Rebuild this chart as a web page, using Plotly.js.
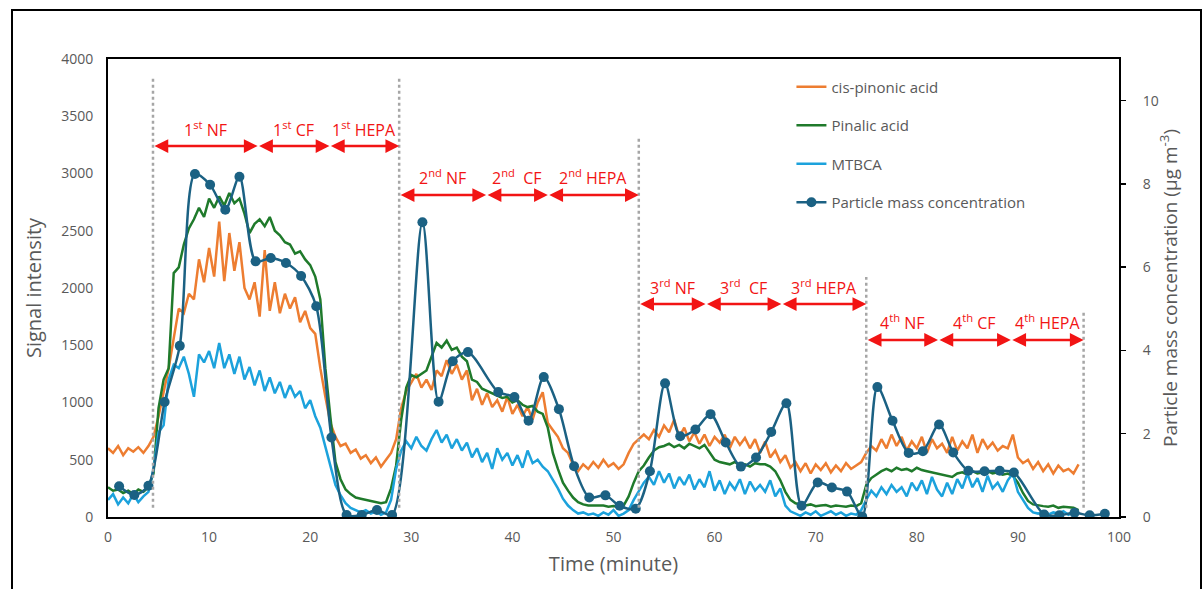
<!DOCTYPE html>
<html>
<head>
<meta charset="utf-8">
<script src="https://cdn.plot.ly/plotly-3.0.1.min.js"></script>
<style>
  html, body { margin:0; padding:0; background:#fff; }
  #chart { width:1202px; height:589px; position:absolute; left:0; top:0; }
  #frame { position:absolute; left:11px; top:9px; width:1187px; height:620px; border:2px solid #000; pointer-events:none; }
</style>
</head>
<body>
<div id="chart"></div>
<div id="frame"></div>
<script>
// Signal series sampled every 0.5 minute starting at t = 0
const sampleStep = 0.5;

const cisPinonic = [600,560,620,540,600,570,610,560,620,700,
 880,1080,1300,1560,1820,1780,1950,1900,2250,2050,
 2350,2100,2580,2060,2480,2150,2400,2000,1900,2050,
 1750,2330,1800,2050,1780,1950,1820,1920,1700,1800,
 1650,1600,1300,1050,820,700,620,640,560,590,
 510,540,470,520,440,500,560,680,950,1100,
 1180,1250,1130,1200,1110,1280,1230,1370,1250,1330,
 1200,1280,1020,1120,980,1080,960,1020,920,1050,
 900,980,880,960,850,1000,1090,820,760,700,
 600,560,460,400,460,420,480,430,500,440,
 470,420,460,560,640,680,720,680,760,700,
 800,740,850,700,780,660,740,640,720,620,
 700,650,720,600,700,630,690,600,680,560,
 660,520,580,480,540,430,480,400,470,380,
 460,410,470,390,450,400,470,420,450,480,
 560,620,580,680,600,720,620,700,580,660,
 600,700,560,680,600,640,560,700,580,660,
 600,720,560,680,600,650,580,620,600,720,
 520,470,500,420,480,400,460,380,450,400,
 420,380,460];

const pinalic = [260,230,240,210,230,200,240,220,260,380,
 950,1200,1300,2130,2180,2380,2520,2600,2700,2620,
 2780,2700,2800,2720,2830,2740,2780,2650,2480,2560,
 2600,2540,2620,2500,2460,2400,2380,2300,2320,2250,
 2200,2100,1900,1300,870,480,330,240,200,170,
 160,150,140,130,120,130,250,450,850,1130,
 1240,1220,1250,1280,1400,1520,1480,1540,1460,1480,
 1400,1360,1200,1180,1120,1100,1080,1060,1040,1050,
 1000,1020,980,960,970,920,900,780,560,420,
 300,230,170,130,110,100,100,95,100,90,
 95,90,100,180,300,400,450,520,580,610,
 620,640,610,630,600,640,620,600,630,560,
 500,480,470,460,480,450,460,440,470,460,
 460,440,400,320,220,150,120,110,100,110,
 95,100,105,90,100,95,90,100,95,120,
 280,340,370,400,420,400,430,410,420,400,
 430,410,400,390,380,370,360,350,380,390,
 370,400,380,390,400,380,390,370,380,360,
 300,210,140,110,100,95,90,100,80,90,
 85,80,60];

const mtbca = [150,200,110,170,120,200,130,180,220,420,
 740,800,1200,1330,1300,1400,1250,1050,1420,1350,
 1450,1300,1520,1300,1420,1250,1400,1200,1310,1150,
 1280,1100,1220,1080,1180,1040,1150,1050,1100,950,
 1020,880,780,620,450,280,190,120,80,60,
 40,60,30,50,20,40,150,420,580,660,
 600,700,620,580,680,760,650,720,600,680,
 580,650,520,600,480,560,420,600,500,560,
 450,540,430,580,470,500,440,400,330,250,
 160,100,60,30,40,20,30,10,40,20,
 60,10,30,60,150,220,300,350,280,400,
 300,380,250,350,280,370,240,330,260,400,
 230,320,200,300,240,330,200,310,230,280,
 220,320,180,250,100,50,30,10,40,20,
 50,10,30,50,20,40,10,30,20,60,
 150,230,180,260,200,280,220,260,180,300,
 230,320,200,350,240,180,300,200,330,250,
 380,260,340,220,360,250,300,220,320,380,
 220,150,80,40,30,50,20,40,30,50,
 20,40,30];

// Particle mass concentration (µg m-3), right axis
const pmTime = [1.1,2.6,4.0,5.6,7.1,8.6,10.1,11.6,13.0,14.6,
 16.1,17.6,19.1,20.6,22.1,23.6,25.1,26.6,28.1,31.1,
 32.7,34.1,35.6,38.6,40.2,41.6,43.1,44.6,46.1,47.6,
 49.2,50.6,52.2,53.6,55.1,56.6,58.1,59.6,61.1,62.6,
 64.1,65.6,67.1,68.6,70.2,71.6,73.1,74.6,76.1,77.6,
 79.2,80.6,82.2,83.6,85.1,86.7,88.2,89.6,92.6,94.1,
 95.6,97.1,98.6];
const pmConc = [0.74,0.53,0.75,2.76,4.11,8.24,7.98,7.38,8.17,6.14,
 6.22,6.10,5.79,5.06,1.91,0.05,0.05,0.17,0.05,7.08,
 2.77,3.74,3.96,3.0,2.88,2.31,3.36,2.59,1.22,0.47,
 0.52,0.27,0.20,1.10,3.21,1.94,2.10,2.47,1.79,1.21,
 1.43,2.04,2.73,0.27,0.83,0.71,0.61,0.01,3.12,2.31,
 1.54,1.58,2.22,1.55,1.11,1.10,1.11,1.07,0.06,0.04,
 0.10,0.04,0.08];

// Filter stage boundaries (minute) and labels
const stageRows = [
  {bounds:[4.45,14.8,21.9,28.8], y:3240, labelY:3390, labels:['1<sup>st</sup> NF','1<sup>st</sup> CF','1<sup>st</sup> HEPA']},
  {bounds:[28.8,37.4,43.5,52.5], y:2812, labelY:2970, labels:['2<sup>nd</sup> NF','2<sup>nd</sup>  CF','2<sup>nd</sup> HEPA']},
  {bounds:[52.5,59.1,66.6,75.0], y:1860, labelY:2005, labels:['3<sup>rd</sup> NF','3<sup>rd</sup>  CF','3<sup>rd</sup> HEPA']},
  {bounds:[75.0,82.1,89.3,96.5], y:1546, labelY:1705, labels:['4<sup>th</sup> NF','4<sup>th</sup> CF','4<sup>th</sup> HEPA']}
];
const dividerX = [4.45, 28.8, 52.5, 75.0, 96.5];
const dividerTop = [3850, 3850, 3320, 2095, 1810];

const tSig = cisPinonic.map((_, i) => i * sampleStep);

const FONT = 'Open Sans, Noto Sans, sans-serif';
const GREY = '#595959';
const RED = '#f21414';

const traces = [
  {x: tSig, y: cisPinonic, name: 'cis-pinonic acid', type: 'scatter', mode: 'lines',
   line: {color: '#ED7D31', width: 2.5}, legendgroup: 'a'},
  {x: tSig.slice(0, pinalic.length), y: pinalic, name: 'Pinalic acid', type: 'scatter', mode: 'lines',
   line: {color: '#1F7A2B', width: 2.5}, legendgroup: 'b'},
  {x: tSig.slice(0, mtbca.length), y: mtbca, name: 'MTBCA', type: 'scatter', mode: 'lines',
   line: {color: '#1CA2DC', width: 2.5}, legendgroup: 'c'},
  {x: pmTime, y: pmConc, name: 'Particle mass concentration', type: 'scatter', mode: 'lines+markers',
   yaxis: 'y2', line: {color: '#1B6183', width: 2.5, shape: 'spline', smoothing: 0.8},
   marker: {color: '#1B6183', size: 10}, legendgroup: 'd'}
];

const shapes = dividerX.map((x, i) => ({
  type: 'line', xref: 'x', yref: 'y', x0: x, x1: x, y0: 80, y1: dividerTop[i],
  line: {color: '#a6a6a6', width: 2.5, dash: 'dot'}, layer: 'above'
}));

const annotations = [];
stageRows.forEach(row => {
  for (let k = 0; k < 3; k++) {
    const a = row.bounds[k], b = row.bounds[k + 1];
    annotations.push({
      xref: 'x', yref: 'y', axref: 'x', ayref: 'y',
      x: b, y: row.y, ax: a, ay: row.y, text: '', showarrow: true,
      arrowside: 'end+start', arrowhead: 2, arrowsize: 1.1, arrowwidth: 2.5,
      arrowcolor: RED, standoff: 0, startstandoff: 0
    });
    annotations.push({
      xref: 'x', yref: 'y', x: (a + b) / 2, y: row.labelY, text: row.labels[k],
      showarrow: false, font: {family: FONT, size: 16, color: RED}
    });
  }
});

const layout = {
  width: 1202, height: 589,
  margin: {l: 108, r: 83, t: 59, b: 72},
  paper_bgcolor: 'rgba(0,0,0,0)', plot_bgcolor: '#fff',
  font: {family: FONT, color: GREY},
  showlegend: true,
  legend: {x: 0.676, y: 0.975, xanchor: 'left', yanchor: 'top', bgcolor: 'rgba(0,0,0,0)',
    font: {family: FONT, size: 15, color: GREY}, tracegroupgap: 16},
  xaxis: {range: [0, 100], dtick: 10, showline: true, linecolor: '#000', linewidth: 2,
    mirror: true, showgrid: false, zeroline: false, ticks: '', ticklabelstandoff: 6,
    tickfont: {size: 14, color: GREY},
    title: {text: 'Time (minute)', font: {size: 20, color: GREY}, standoff: 12}},
  yaxis: {range: [0, 4000], dtick: 500, showline: true, linecolor: '#000', linewidth: 2,
    showgrid: false, zeroline: false, ticks: '', ticklabelstandoff: 10,
    tickfont: {size: 14, color: GREY},
    title: {text: 'Signal intensity', font: {size: 20, color: GREY}, standoff: 14}},
  yaxis2: {range: [0, 11], dtick: 2, overlaying: 'y', side: 'right', showline: true,
    linecolor: '#000', linewidth: 2, showgrid: false, zeroline: false,
    ticks: 'outside', ticklen: 5, tickcolor: '#000', tickwidth: 1.5, ticklabelstandoff: 14,
    tickfont: {size: 14, color: GREY},
    title: {text: 'Particle mass concentration (µg m<sup>-3</sup>)', font: {size: 19, color: GREY}, standoff: 6}},
  shapes: shapes,
  annotations: annotations
};

Plotly.newPlot('chart', traces, layout, {displayModeBar: false, staticPlot: true});
</script>
</body>
</html>
